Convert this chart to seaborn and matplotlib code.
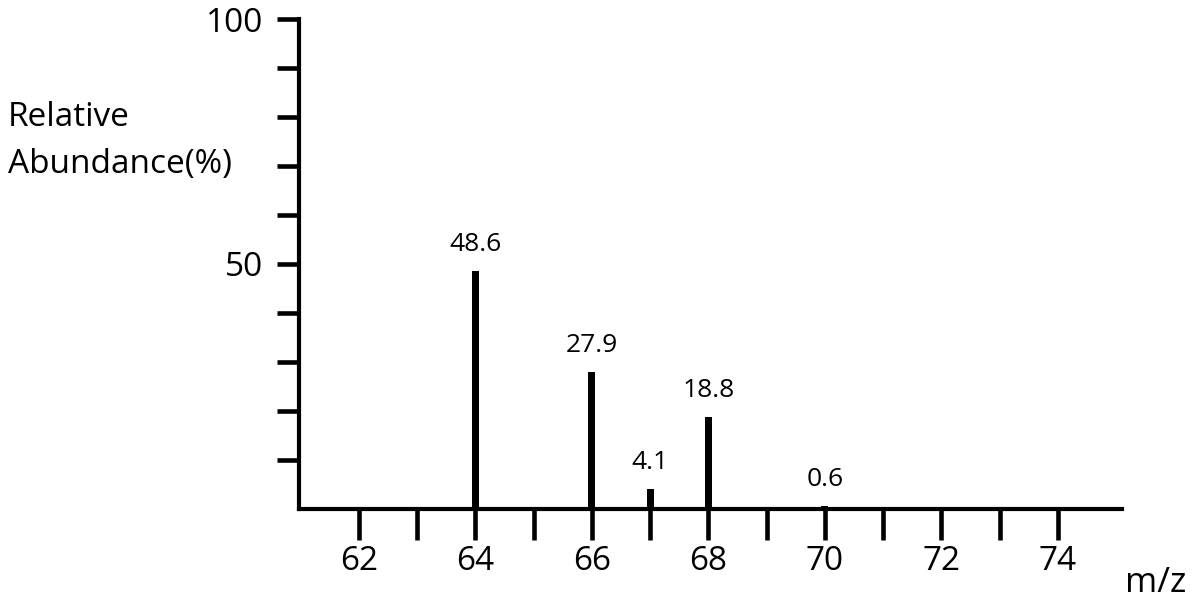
import matplotlib
matplotlib.use("Agg")
import matplotlib.pyplot as plt
import seaborn as sns
import pandas as pd

# peak data
mz_values = [64, 66, 67, 68, 70]
abundance = [48.6, 27.9, 4.1, 18.8, 0.6]
peak_labels = ["48.6", "27.9", "4.1", "18.8", "0.6"]

x_ticks = list(range(62, 75))
x_tick_labels = [str(t) if t % 2 == 0 else "" for t in x_ticks]
y_ticks = list(range(10, 101, 10))
y_tick_labels = ["100" if t == 100 else "50" if t == 50 else "" for t in y_ticks]

FONT = ["Open Sans", "DejaVu Sans"]


def plot_spectrum():
    sns.set_style("white")
    plt.rcParams["font.family"] = FONT
    plt.rcParams["text.color"] = "black"
    plt.rcParams["xtick.color"] = "black"
    plt.rcParams["ytick.color"] = "black"

    df = pd.DataFrame({"mz": mz_values, "abundance": abundance})

    fig = plt.figure(figsize=(11.96, 6.07), dpi=100)
    ax = fig.add_axes([299 / 1196, 98 / 607, 823 / 1196, 490 / 607])

    sns.barplot(data=df, x="mz", y="abundance", native_scale=True,
                width=0.12, color="black", saturation=1, linewidth=0, ax=ax)

    for x, y, lab in zip(mz_values, abundance, peak_labels):
        ax.annotate(lab, (x, y), xytext=(0, 10), textcoords="offset points",
                    ha="center", va="bottom", fontsize=19)

    ax.set_xlim(60.97, 75.1)
    ax.set_ylim(0, 100)
    ax.set_xticks(x_ticks)
    ax.set_xticklabels(x_tick_labels, fontsize=24)
    ax.set_yticks(y_ticks)
    ax.set_yticklabels(y_tick_labels, fontsize=24)
    ax.set_xlabel("")
    ax.set_ylabel("")

    sns.despine(ax=ax)
    for side in ["left", "bottom"]:
        ax.spines[side].set_linewidth(3)
        ax.spines[side].set_color("black")
    ax.tick_params(axis="x", length=22, width=3.3, pad=4, bottom=True)
    ax.tick_params(axis="y", length=16, width=3.3, pad=10, left=True)

    fig.text(8 / 1196, 1 - 126 / 607, "Relative", fontsize=24, ha="left", va="baseline")
    fig.text(8 / 1196, 1 - 173 / 607, "Abundance(%)", fontsize=24, ha="left", va="baseline")
    fig.text(1125 / 1196, 1 - 592 / 607, "m/z", fontsize=25, ha="left", va="baseline")

    fig.savefig("out.png", dpi=100)
    plt.close(fig)


if __name__ == "__main__":
    plot_spectrum()
